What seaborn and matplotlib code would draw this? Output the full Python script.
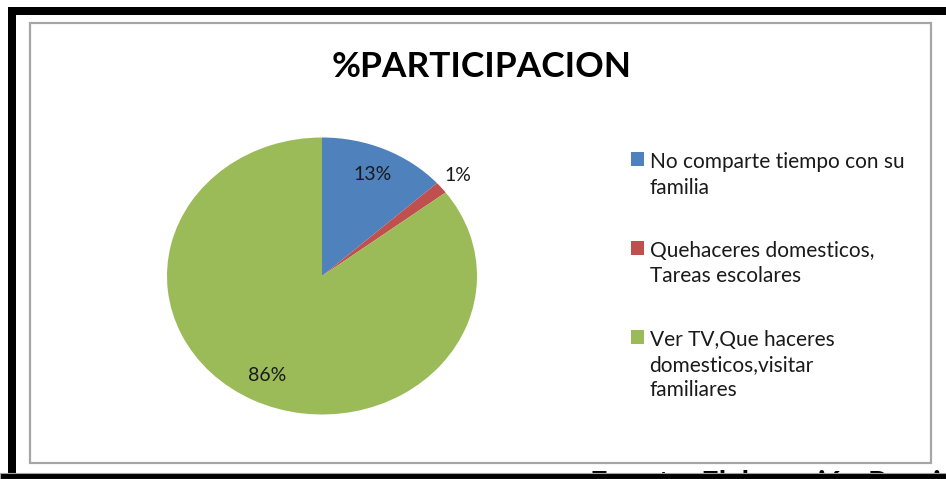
import matplotlib
matplotlib.use("Agg")
from matplotlib import pyplot as plt
from matplotlib.patches import Rectangle, Patch
import seaborn as sns
import numpy as np

# values
categorias = ["No comparte tiempo con su\nfamilia",
              "Quehaceres domesticos,\nTareas escolares",
              "Ver TV,Que haceres\ndomesticos,visitar\nfamiliares"]
participacion = [13.3, 1.4, 85.3]
etiquetas = ["13%", "1%", "86%"]
titulo = "%PARTICIPACION"
fuente = "Fuente: Elaboración Propia"

sns.set_theme(style="white")
plt.rcParams["font.family"] = ["Lato", "DejaVu Sans"]
colores = ["#4F81BD", "#C0504D", "#9BBB59"]

W, H = 946, 479
fig = plt.figure(figsize=(W / 100, H / 100), dpi=100)
fig.patch.set_facecolor("white")

def px(x0, y0, x1, y1):
    # pixel box (top-left origin) -> figure fraction [l, b, w, h]
    return [x0 / W, 1 - y1 / H, (x1 - x0) / W, (y1 - y0) / H]

# frame: black bars + gray chart border
marco = dict(transform=fig.transFigure, zorder=-5)
fig.patches.append(Rectangle((8 / W, 1 - 15 / H), 1, 8 / H,
                             facecolor="black", edgecolor="none", **marco))
fig.patches.append(Rectangle((8 / W, 0), 8 / W, 1 - 7 / H,
                             facecolor="black", edgecolor="none", **marco))
fig.patches.append(Rectangle((30 / W, 1 - 463 / H), 901 / W, 440 / H,
                             facecolor="none", edgecolor="#a6a6a6", lw=1.6, **marco))

# pie (slightly stretched like the original)
ax = fig.add_axes(px(167, 137.5, 477, 414.5))
wedges, txts = ax.pie(participacion, colors=colores, startangle=90,
                      counterclock=False, wedgeprops=dict(linewidth=0))
ax.set_aspect("auto")
ax.set_xlim(-1, 1)
ax.set_ylim(-1, 1)
ax.axis("off")

for i, w in enumerate(wedges):
    ang = np.deg2rad((w.theta1 + w.theta2) / 2)
    r = 1.14 if participacion[i] < 5 else 0.8
    ax.text(r * np.cos(ang), r * np.sin(ang), etiquetas[i], ha="center", va="center",
            fontsize=14, color="#1a1a1a")

fig.text(482 / W, 1 - 67 / H, titulo, ha="center", va="center",
         fontsize=25.5, fontweight="bold", color="black")

handles = [Patch(facecolor=c, edgecolor="none") for c in colores]
leg = fig.legend(handles, categorias, loc="upper left",
                 bbox_to_anchor=(621 / W, 1 - 142 / H), frameon=False,
                 fontsize=15, handlelength=0.62, handleheight=0.62,
                 handletextpad=0.25, labelspacing=2.1, borderpad=0,
                 labelcolor="#1a1a1a")
for t in leg.get_texts():
    t.set_linespacing(1.32)
for col in leg._legend_handle_box.get_children():
    for item in col.get_children():
        item.align = "top"

# source line, mostly hidden under the bottom black bar
fig.text(590 / W, 1 - 470 / H, fuente, ha="left", va="top",
         fontsize=22, fontweight="bold", color="black")
fig.patches.append(Rectangle((0, 0), 1, 6 / H, transform=fig.transFigure,
                             facecolor="black", edgecolor="#a0a0a0", lw=0.8, zorder=10))

fig.savefig("out.png", dpi=100)
